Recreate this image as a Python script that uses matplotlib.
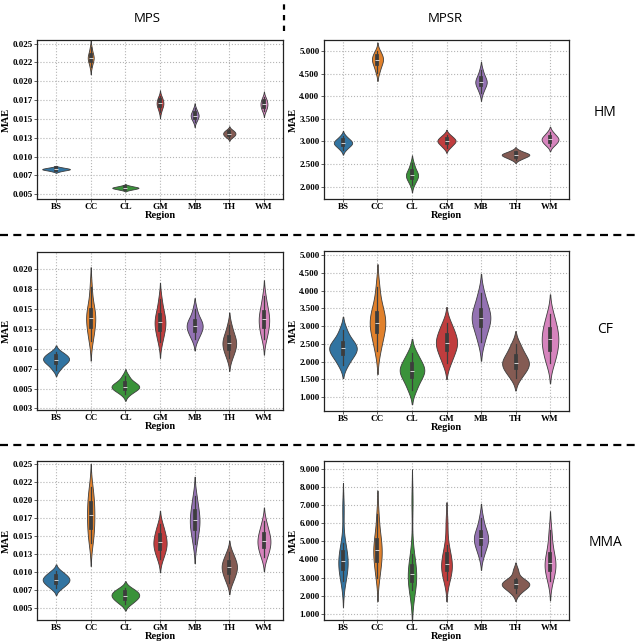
import matplotlib
matplotlib.use('Agg')
import matplotlib.pyplot as plt
from matplotlib.lines import Line2D
import pandas as pd
import seaborn as sns

regions = ['BS', 'CC', 'CL', 'GM', 'MB', 'TH', 'WM']

# ---- HM / MPS ----
hm_mps = {
    'BS': [0.00803, 0.00815, 0.00821, 0.00826, 0.00830, 0.00833, 0.00837, 0.00842, 0.00848, 0.00857],
    'CC': [0.0219, 0.0224, 0.0227, 0.0229, 0.0231, 0.0232, 0.0234, 0.0236, 0.0240, 0.0245],
    'CL': [0.00556, 0.00566, 0.00572, 0.00578, 0.00582, 0.00585, 0.00589, 0.00595, 0.00601, 0.00612],
    'GM': [0.0159, 0.0164, 0.0166, 0.0168, 0.0170, 0.0171, 0.0173, 0.0175, 0.0177, 0.0180],
    'MB': [0.0146, 0.0149, 0.0151, 0.0153, 0.0154, 0.0155, 0.0157, 0.0158, 0.0161, 0.0164],
    'TH': [0.0125, 0.0127, 0.0128, 0.0129, 0.0130, 0.0131, 0.0132, 0.0133, 0.0134, 0.0136],
    'WM': [0.0160, 0.0163, 0.0165, 0.0167, 0.0169, 0.0170, 0.0172, 0.0174, 0.0176, 0.0179],
}
# ---- HM / MPSR ----
hm_mpsr = {
    'BS': [2.82, 2.88, 2.91, 2.94, 2.96, 2.98, 3.00, 3.03, 3.06, 3.12],
    'CC': [4.52, 4.62, 4.69, 4.74, 4.78, 4.81, 4.85, 4.89, 4.93, 5.00],
    'CL': [2.05, 2.13, 2.18, 2.22, 2.25, 2.27, 2.30, 2.35, 2.42, 2.52],
    'GM': [2.86, 2.91, 2.95, 2.98, 3.00, 3.02, 3.04, 3.07, 3.10, 3.15],
    'MB': [4.08, 4.17, 4.23, 4.27, 4.30, 4.33, 4.36, 4.41, 4.47, 4.58],
    'TH': [2.60, 2.64, 2.66, 2.68, 2.70, 2.71, 2.72, 2.74, 2.76, 2.80],
    'WM': [2.90, 2.95, 2.98, 3.01, 3.04, 3.06, 3.08, 3.11, 3.15, 3.21],
}
# ---- CF / MPS ----
cf_mps = {
    'BS': [0.0074, 0.0079, 0.0082, 0.0084, 0.0086, 0.0087, 0.0089, 0.0091, 0.0093, 0.0096],
    'CC': [0.0110, 0.0119, 0.0126, 0.0132, 0.0137, 0.0141, 0.0145, 0.0150, 0.0158, 0.0178],
    'CL': [0.0043, 0.0047, 0.0049, 0.0051, 0.0052, 0.0053, 0.0055, 0.0057, 0.0060, 0.0066],
    'GM': [0.0109, 0.0117, 0.0123, 0.0128, 0.0132, 0.0135, 0.0139, 0.0144, 0.0151, 0.0163],
    'MB': [0.0112, 0.0118, 0.0122, 0.0125, 0.0128, 0.0130, 0.0133, 0.0136, 0.0140, 0.0150],
    'TH': [0.0088, 0.0095, 0.0099, 0.0103, 0.0106, 0.0109, 0.0112, 0.0116, 0.0121, 0.0130],
    'WM': [0.0113, 0.0120, 0.0126, 0.0131, 0.0135, 0.0139, 0.0143, 0.0148, 0.0155, 0.0166],
}
# ---- CF / MPSR ----
cf_mpsr = {
    'BS': [1.90, 2.08, 2.20, 2.28, 2.35, 2.40, 2.46, 2.55, 2.66, 2.90],
    'CC': [2.30, 2.60, 2.80, 2.95, 3.05, 3.15, 3.28, 3.42, 3.60, 4.10],
    'CL': [1.20, 1.40, 1.55, 1.65, 1.72, 1.78, 1.85, 1.95, 2.08, 2.25],
    'GM': [1.95, 2.15, 2.30, 2.40, 2.50, 2.58, 2.66, 2.78, 2.92, 3.10],
    'MB': [2.55, 2.80, 2.98, 3.10, 3.20, 3.28, 3.38, 3.50, 3.68, 3.95],
    'TH': [1.55, 1.70, 1.80, 1.88, 1.95, 2.00, 2.08, 2.18, 2.32, 2.50],
    'WM': [1.95, 2.15, 2.30, 2.45, 2.58, 2.68, 2.80, 2.95, 3.10, 3.35],
}
# ---- MMA / MPS ----
mma_mps = {
    'BS': [0.0077, 0.0081, 0.0084, 0.0086, 0.0088, 0.0090, 0.0092, 0.0094, 0.0097, 0.0101],
    'CC': [0.0140, 0.0150, 0.0158, 0.0167, 0.0175, 0.0182, 0.0190, 0.0198, 0.0207, 0.0218],
    'CL': [0.0055, 0.0059, 0.0062, 0.0064, 0.0066, 0.0068, 0.0070, 0.0072, 0.0074, 0.0078],
    'GM': [0.0118, 0.0126, 0.0131, 0.0135, 0.0139, 0.0143, 0.0147, 0.0152, 0.0158, 0.0166],
    'MB': [0.0138, 0.0150, 0.0158, 0.0164, 0.0169, 0.0174, 0.0179, 0.0186, 0.0195, 0.0206],
    'TH': [0.0085, 0.0092, 0.0097, 0.0101, 0.0105, 0.0108, 0.0111, 0.0115, 0.0120, 0.0127],
    'WM': [0.0120, 0.0127, 0.0133, 0.0137, 0.0141, 0.0145, 0.0149, 0.0154, 0.0160, 0.0170],
}
# ---- MMA / MPSR ----
mma_mpsr = {
    'BS': [2.80, 3.20, 3.45, 3.65, 3.85, 4.00, 4.20, 4.45, 4.90, 6.80],
    'CC': [3.00, 3.50, 3.85, 4.15, 4.40, 4.60, 4.85, 5.15, 5.60, 6.50],
    'CL': [2.30, 2.60, 2.80, 2.95, 3.10, 3.25, 3.40, 3.70, 4.30, 7.20],
    'GM': [2.85, 3.15, 3.35, 3.55, 3.70, 3.85, 4.05, 4.35, 4.80, 6.00],
    'MB': [4.20, 4.55, 4.80, 4.95, 5.10, 5.22, 5.35, 5.55, 5.80, 6.30],
    'TH': [2.15, 2.35, 2.48, 2.56, 2.62, 2.68, 2.74, 2.82, 2.98, 3.40],
    'WM': [2.80, 3.15, 3.40, 3.58, 3.75, 3.90, 4.10, 4.40, 4.90, 5.60],
}

# tick values and labels
mps_ticks_a = [0.005, 0.0075, 0.010, 0.0125, 0.015, 0.0175, 0.020, 0.0225, 0.025]
mps_labels_a = ['0.005', '0.007', '0.010', '0.013', '0.015', '0.017', '0.020', '0.022', '0.025']
mps_ticks_c = [0.0025, 0.005, 0.0075, 0.010, 0.0125, 0.015, 0.0175, 0.020]
mps_labels_c = ['0.003', '0.005', '0.007', '0.010', '0.013', '0.015', '0.018', '0.020']
mpsr_ticks_hm = [2.0, 2.5, 3.0, 3.5, 4.0, 4.5, 5.0]
mpsr_labels_hm = ['2.000', '2.500', '3.000', '3.500', '4.000', '4.500', '5.000']
mpsr_ticks_cf = [1.0, 1.5, 2.0, 2.5, 3.0, 3.5, 4.0, 4.5, 5.0]
mpsr_labels_cf = ['1.000', '1.500', '2.000', '2.500', '3.000', '3.500', '4.000', '4.500', '5.000']
mpsr_ticks_mma = [1, 2, 3, 4, 5, 6, 7, 8, 9]
mpsr_labels_mma = ['1.000', '2.000', '3.000', '4.000', '5.000', '6.000', '7.000', '8.000', '9.000']

col_titles = ['MPS', 'MPSR']
row_titles = ['HM', 'CF', 'MMA']

W, H = 640, 642
fig = plt.figure(figsize=(W / 100, H / 100), dpi=100)

serif = 'Liberation Serif'
sans = 'Open Sans'

panels = [
    (hm_mps, (37, 40, 283, 199), (0.00435, 0.02549), mps_ticks_a, mps_labels_a),
    (hm_mpsr, (324, 40, 569, 199), (1.73, 5.24), mpsr_ticks_hm, mpsr_labels_hm),
    (cf_mps, (37, 252, 283, 410), (0.0023, 0.0222), mps_ticks_c, mps_labels_c),
    (cf_mpsr, (324, 251, 569, 411), (0.61, 5.12), mpsr_ticks_cf, mpsr_labels_cf),
    (mma_mps, (37, 461, 283, 620), (0.0033, 0.0254), mps_ticks_a, mps_labels_a),
    (mma_mpsr, (324, 461, 569, 620), (0.67, 9.42), mpsr_ticks_mma, mpsr_labels_mma),
]

for data, (x0, y0, x1, y1), ylim, yt, ytl in panels:
    ax = fig.add_axes([x0 / W, 1 - y1 / H, (x1 - x0) / W, (y1 - y0) / H])
    rows = []
    for r in regions:
        for v in data[r]:
            rows.append((r, v))
    df = pd.DataFrame(rows, columns=['Region', 'MAE'])
    kw = dict(data=df, x='Region', y='MAE', hue='Region', order=regions,
              hue_order=regions, palette='tab10', legend=False, ax=ax,
              linewidth=0.6, inner='box')
    try:
        sns.violinplot(density_norm='area', common_norm=True, **kw)
    except TypeError:
        kw.pop('legend')
        sns.violinplot(scale='area', **kw)
    ax.set_axisbelow(True)
    ax.grid(True, ls=':', color='#b5b5b5', lw=0.8)
    ax.set_ylim(*ylim)
    ax.set_xlim(-0.55, 6.55)
    ax.set_yticks(yt)
    ax.set_yticklabels(ytl, fontfamily=serif, fontweight='bold', fontsize=6.5)
    ax.set_xticks(range(len(regions)))
    ax.set_xticklabels(regions, fontfamily=serif, fontweight='bold', fontsize=6.5)
    ax.tick_params(axis='both', length=2, width=0.6, pad=1.2, color='#444444')
    ax.set_xlabel('Region', fontfamily=serif, fontweight='bold', fontsize=7.5, labelpad=0)
    ax.set_ylabel('MAE', fontfamily=serif, fontweight='bold', fontsize=7.5, labelpad=1)
    for s in ax.spines.values():
        s.set_color('#222222')
        s.set_linewidth(0.9)

# column titles
fig.text(147 / W, 1 - 18 / H, 'MPS', ha='center', va='center', fontfamily=sans, fontsize=9.5)
fig.text(445 / W, 1 - 18 / H, 'MPSR', ha='center', va='center', fontfamily=sans, fontsize=9.5)
# row titles
for lab, yy in zip(row_titles, [112, 330, 542]):
    fig.text(605 / W, 1 - yy / H, lab, ha='center', va='center', fontfamily=sans, fontsize=10)

# dashed separators
for yy in [235, 445]:
    fig.add_artist(Line2D([0, 1], [1 - yy / H, 1 - yy / H], transform=fig.transFigure,
                          color='black', lw=1.6, ls=(0, (3.6, 2.4))))
fig.add_artist(Line2D([284 / W, 284 / W], [1 - 31 / H, 1.0], transform=fig.transFigure,
                      color='black', lw=1.6, ls=(0, (2.4, 2.4))))

fig.savefig('out.png', dpi=100)
